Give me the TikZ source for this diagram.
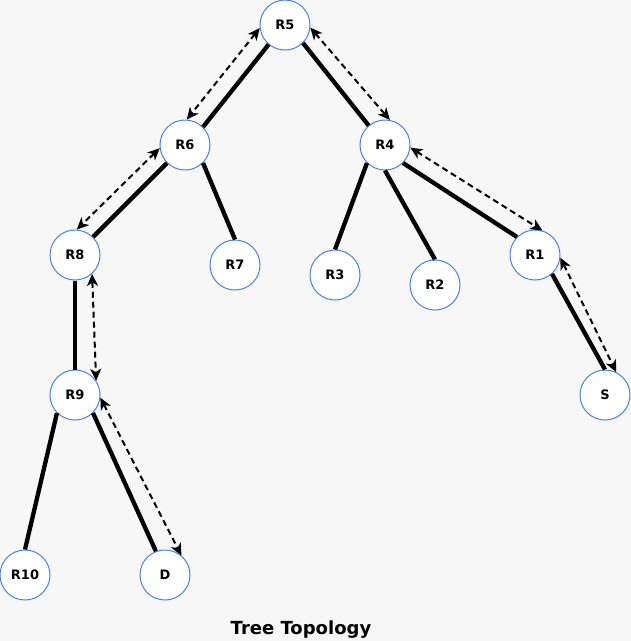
\documentclass[tikz,border=0pt]{standalone}
\usepackage{fontspec}
\setmainfont{DejaVu Sans}
\usetikzlibrary{arrows.meta}
\definecolor{bgc}{RGB}{247,247,247}
\definecolor{ring}{RGB}{70,130,230}
\tikzset{
  router/.style={circle, draw=ring, fill=white, line width=1pt, minimum size=50pt, inner sep=0pt,
    font=\bfseries\fontsize{13}{15}\selectfont},
  link/.style={line width=4.3pt, black},
  flow/.style={line width=2pt, black, dash pattern=on 6pt off 4pt,
    {Stealth[length=12pt,width=11pt,inset=3.5pt]}-{Stealth[length=12pt,width=11pt,inset=3.5pt]}},
  caption/.style={font=\bfseries\fontsize{18}{20}\selectfont}
}
\begin{document}
\begin{tikzpicture}[x=1pt,y=-1pt]
\fill[bgc] (0,0) rectangle (631,641);
\useasboundingbox (0,0) rectangle (631,641);
% nodes
\node[router] (R5) at (285,25) {R5};
\node[router] (R6) at (185,145) {R6};
\node[router] (R4) at (385,145) {R4};
\node[router] (R8) at (75,255) {R8};
\node[router] (R7) at (235,265) {R7};
\node[router] (R3) at (335,275) {R3};
\node[router] (R2) at (435,285) {R2};
\node[router] (R1) at (535,255) {R1};
\node[router] (S) at (605,395) {S};
\node[router] (R9) at (75,395) {R9};
\node[router] (R10) at (25,575) {R10};
\node[router] (D) at (165,575) {D};
\node[caption] (title) at (301,630) {Tree Topology};
% solid links
\draw[link] (R5.230) -- (R6.45);
\draw[link] (R5.-45) -- (R4.130);
\draw[link] (R6.225) -- (R8.45);
\draw[link] (R6.-45) -- (R7.north);
\draw[link] (R4.225) -- (R3.north);
\draw[link] (R4.south) -- (R2.north);
\draw[link] (R4.-45) -- (R1.135);
\draw[link] (R1.-48) -- (S.north);
\draw[link] (R8.south) -- (R9.north);
\draw[link] (R9.225) -- (R10.north);
\draw[link] (R9.-45) -- (D.111);
% dashed flows
\draw[flow] (R5.187) -- (R6.86);
\draw[flow] (R5.-6) -- (R4.79);
\draw[flow] (R6.187) -- (R8.86);
\draw[flow] (R8.-48) -- (R9.34);
\draw[flow] (R9.-6) -- (D.50);
\draw[flow] (R4.-6) -- (R1.73);
\draw[flow] (R1.-6) -- (S.64);
\end{tikzpicture}
\end{document}
